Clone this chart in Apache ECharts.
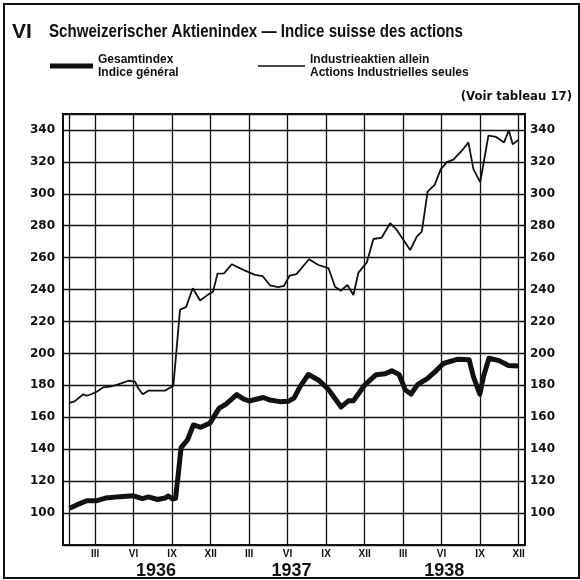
<!DOCTYPE html>
<html>
<head>
<meta charset="utf-8">
<script src="https://cdn.jsdelivr.net/npm/echarts@6/dist/echarts.min.js"></script>
<style>
  html, body { margin: 0; padding: 0; background: #fff; }
  #chart { width: 580px; height: 580px; }
</style>
</head>
<body>
<div id="chart"></div>
<script>
// months counted from Jan 1936 (0) to Dec 1938 (35)
var indMonths = [0, 0.4, 1.08, 1.35, 1.74, 2.13, 2.64, 3.16, 3.69, 4.2, 4.59, 5.11, 5.37, 5.71, 6.15,
  7.45, 8.1, 8.62, 9.09, 9.61, 10.18, 10.83, 11.19, 11.54, 12.05, 12.65, 13.6, 14.47, 15.05, 15.64,
  16.26, 16.73, 17.16, 17.69, 18.67, 19.4, 20.18, 20.7, 21.15, 21.66, 22.13, 22.52, 23.17, 23.69, 24.34,
  24.99, 25.51, 26.55, 27.07, 27.46, 27.91, 28.46, 28.94, 29.41, 29.92, 30.58, 31.09, 31.48, 32.01, 32.65,
  33.25, 33.87, 34.24, 34.54, 34.99]
var indValues = [169, 170, 174.4, 173.5, 174.6, 176, 178.8, 179.2, 180.3, 181.7, 182.9, 182.3, 178.2, 174.4, 176.7,
  176.7, 179.8, 227.5, 229, 240.8, 233.2, 237, 238.7, 250, 250.2, 255.9, 252.2, 249.2, 248.5, 242.6,
  241.6, 242.4, 248.8, 249.7, 259, 255.4, 253.5, 241.8, 239.3, 242.9, 236.6, 250.6, 256.9, 271.7, 272.6,
  281.6, 277.4, 264.8, 273.2, 276.3, 301.4, 305.6, 315.5, 319.8, 321.4, 327, 332.2, 315.5, 307.3, 336.4,
  335.6, 332.2, 339.8, 331, 333.8]

var genMonths = [0, 0.57, 1.35, 2.07, 2.81, 3.94, 4.98, 5.7, 6.15, 6.87, 7.45, 7.71, 8.04, 8.27, 8.49,
  8.7, 9.2, 9.66, 10.24, 10.96, 11.66, 12.2, 13.04, 13.55, 14.0, 15.11, 15.64, 16.41, 17.04, 17.5,
  17.97, 18.62, 19.4, 20.18, 21.17, 21.74, 22.13, 23.04, 23.9, 24.6, 25.12, 25.69, 26.16, 26.62, 27.13,
  27.91, 28.5, 29.14, 30.21, 31.15, 31.48, 31.98, 32.26, 32.69, 33.48, 34.21, 34.99]
var genValues = [103, 105.1, 107.7, 107.7, 109.4, 110.3, 110.8, 109, 110.1, 108.5, 109.4, 110.7, 108.8, 109.3, 125,
  141, 145.8, 155.2, 153.7, 156.5, 165.6, 168.3, 174.2, 171.5, 170.2, 172.4, 170.8, 169.8, 170, 172,
  179.2, 186.8, 183.4, 177.5, 166.5, 170.3, 170.4, 180.5, 186.7, 187.3, 189.1, 186.8, 177.3, 174.6, 180.5,
  184.4, 188.6, 193.7, 196.3, 196, 185.4, 174.5, 185.4, 197, 195.5, 192.5, 192.2]

// tick labels
var monthTicks = [2, 5, 8, 11, 14, 17, 20, 23, 26, 29, 32, 35]
var monthLabels = ['III', 'VI', 'IX', 'XII', 'III', 'VI', 'IX', 'XII', 'III', 'VI', 'IX', 'XII']
var yearPos = [6.75, 17.3, 29.2]
var yearLabels = ['1936', '1937', '1938']
var gridMonths = [-0.05, 2, 5, 8, 11, 14, 17, 20, 23, 26, 29, 32, 35]

var seriesNames = ['Gesamtindex', 'Industrieaktien allein']
var seriesNamesFr = ['Indice général', 'Actions Industrielles seules']
var titleText = 'Schweizerischer Aktienindex — Indice suisse des actions'

var INK = '#111'
var SANS = "'Liberation Sans', Arial, sans-serif"
var NARROW = "'DejaVu Sans Condensed', 'Liberation Sans', sans-serif"

var chart = echarts.init(document.getElementById('chart'), null, { renderer: 'canvas' })

function pairs(xs, ys) {
  return xs.map(function (x, i) { return [x, ys[i]] })
}

// squeeze the title into the width it has in the print (condensed type)
var titleFont = 'bold 18px ' + SANS
var measure = document.createElement('canvas').getContext('2d')
measure.font = titleFont
var titleScale = 414 / measure.measureText(titleText).width

function legendFor(idx, left, width, height) {
  return {
    data: [{ name: seriesNames[idx], icon: 'rect' }],
    left: left,
    top: 53,
    itemWidth: width,
    itemHeight: height,
    itemGap: 0,
    selectedMode: false,
    padding: 0,
    formatter: function (name) {
      return name + '\n' + seriesNamesFr[idx]
    },
    textStyle: {
      color: INK,
      fontFamily: SANS,
      fontWeight: 'bold',
      fontSize: 12,
      lineHeight: 13,
    },
  }
}

var option = {
  backgroundColor: '#fff',
  animation: false,
  grid: {
    left: 63,
    right: 55,
    top: 114,
    bottom: 35,
    show: true,
    borderColor: INK,
    borderWidth: 2,
  },
  legend: [legendFor(0, 50, 43, 5), legendFor(1, 258, 47, 1.5)],
  xAxis: [
    {
      type: 'value',
      min: -0.5,
      max: 35.5,
      axisLine: { show: false },
      axisTick: { show: false },
      splitLine: { show: false },
      axisLabel: {
        customValues: monthTicks,
        formatter: function (v) {
          return monthLabels[monthTicks.indexOf(v)] || ''
        },
        color: INK,
        fontFamily: SANS,
        fontWeight: 'bold',
        fontSize: 10,
        margin: 4,
      },
    },
    {
      type: 'value',
      min: -0.5,
      max: 35.5,
      position: 'bottom',
      offset: 13,
      axisLine: { show: false },
      axisTick: { show: false },
      splitLine: { show: false },
      axisLabel: {
        customValues: yearPos,
        formatter: function (v) {
          return yearLabels[yearPos.indexOf(v)] || ''
        },
        color: INK,
        fontFamily: SANS,
        fontWeight: 'bold',
        fontSize: 18,
        margin: 4,
      },
    },
  ],
  yAxis: [
    {
      type: 'value',
      min: 80,
      max: 350,
      interval: 20,
      position: 'left',
      axisLine: { show: false },
      axisTick: { show: false },
      splitLine: { show: true, lineStyle: { color: INK, width: 1.3 } },
      axisLabel: {
        formatter: function (v) { return v >= 100 && v <= 340 ? v : '' },
        color: INK,
        fontFamily: 'DejaVu Sans',
        fontWeight: 'bold',
        fontSize: 12,
        margin: 8,
      },
    },
    {
      type: 'value',
      min: 80,
      max: 350,
      interval: 20,
      position: 'right',
      axisLine: { show: false },
      axisTick: { show: false },
      splitLine: { show: false },
      axisLabel: {
        formatter: function (v) { return v >= 100 && v <= 340 ? v : '' },
        color: INK,
        fontFamily: 'DejaVu Sans',
        fontWeight: 'bold',
        fontSize: 12,
        margin: 5,
      },
    },
  ],
  series: [
    {
      name: seriesNames[0],
      type: 'line',
      data: pairs(genMonths, genValues),
      showSymbol: false,
      symbol: 'none',
      color: INK,
      lineStyle: { color: INK, width: 5, join: 'round' },
      z: 5,
    },
    {
      name: seriesNames[1],
      type: 'line',
      data: pairs(indMonths, indValues),
      showSymbol: false,
      symbol: 'none',
      color: INK,
      lineStyle: { color: INK, width: 1.8 },
      z: 4,
      markLine: {
        silent: true,
        symbol: 'none',
        label: { show: false },
        lineStyle: { color: INK, width: 1.3, type: 'solid' },
        data: gridMonths.map(function (m) { return { xAxis: m } }),
        z: 1,
      },
    },
  ],
  graphic: [
    {
      type: 'rect',
      shape: { x: 4, y: 4, width: 575, height: 574 },
      style: { fill: 'none', stroke: INK, lineWidth: 2 },
      silent: true,
    },
    {
      type: 'text',
      left: 12,
      top: 22,
      style: { text: 'VI', fill: INK, font: 'bold 21px ' + SANS },
    },
    {
      type: 'text',
      x: 49,
      y: 32,
      scaleX: titleScale,
      style: {
        text: titleText,
        fill: INK,
        font: titleFont,
        align: 'left',
        verticalAlign: 'middle',
      },
    },
    {
      type: 'text',
      right: 8,
      top: 90,
      style: { text: '(Voir tableau 17)', fill: INK, font: 'bold 13px ' + NARROW },
    },
  ],
}

chart.setOption(option)
</script>
</body>
</html>
